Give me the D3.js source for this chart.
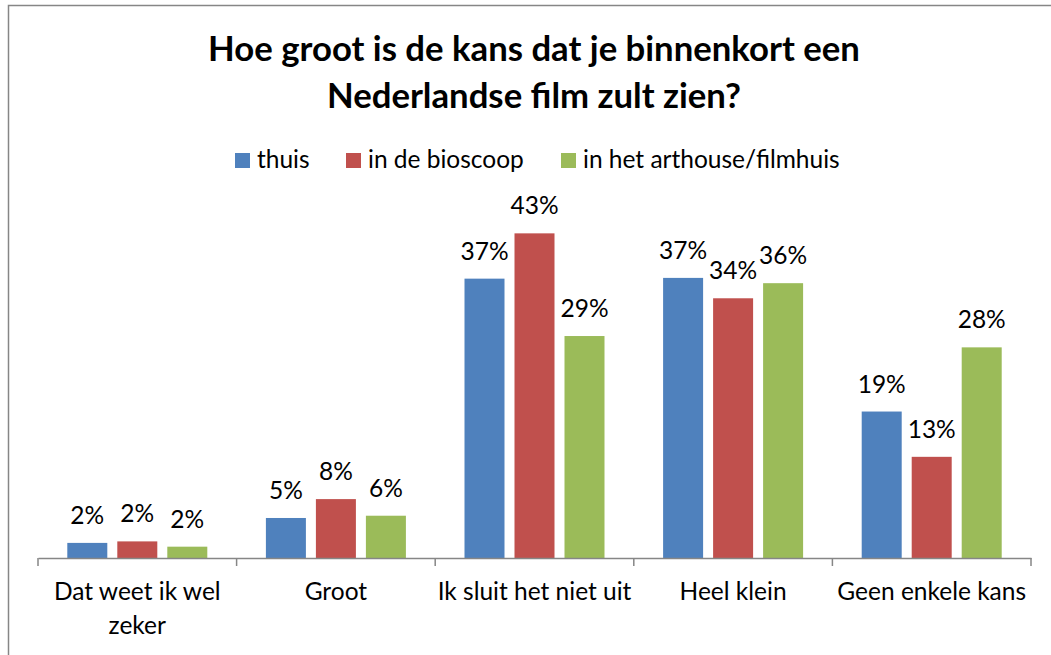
<!DOCTYPE html>
<html>
<head>
<meta charset="utf-8">
<script src="https://cdn.jsdelivr.net/npm/d3@7"></script>
<style>
  body { margin: 0; background: #fff; }
  svg text { font-family: Lato, "Open Sans", sans-serif; fill: #000; }
</style>
</head>
<body>
<svg id="chart" width="1051" height="655"></svg>
<script>
// Chart data
const categories = ["Dat weet ik wel zeker", "Groot", "Ik sluit het niet uit", "Heel klein", "Geen enkele kans"];
const series = ["thuis", "in de bioscoop", "in het arthouse/filmhuis"];
const thuis = [2.0, 5.3, 37.0, 37.1, 19.4];
const bioscoop = [2.2, 7.8, 43.0, 34.4, 13.4];
const arthouse = [1.5, 5.6, 29.4, 36.4, 27.9];
const colors = ["#4F81BD", "#C0504D", "#9BBB59"];
const titleLines = ["Hoe groot is de kans dat je binnenkort een", "Nederlandse film zult zien?"];

const values = [thuis, bioscoop, arthouse];
const textSize = 24.5;
const svg = d3.select("#chart");

// outer frame
svg.append("rect")
  .attr("x", 8.5).attr("y", 5.5)
  .attr("width", 1100).attr("height", 700)
  .attr("fill", "none")
  .attr("stroke", "#868686")
  .attr("stroke-width", 1.5);

/* Title, fitted to the width of the original */
const title = svg.append("g").attr("class", "title");
title.selectAll("text")
  .data(titleLines)
  .join("text")
  .attr("x", 534)
  .attr("y", (d, i) => 61 + i * 47)
  .attr("text-anchor", "middle")
  .attr("font-weight", "bold")
  .attr("font-size", 31)
  .text(d => d);
const firstLine = title.select("text").node();
const fit = 652 / firstLine.getComputedTextLength();
title.selectAll("text").attr("font-size", 31 * fit);

/* Scales */
const axisY = 558;
const x0 = d3.scaleBand().domain(categories).range([38, 1031]);
const x1 = d3.scaleBand().domain(series).range([29.3, 169.3]).paddingInner(0.2);
const y = d3.scaleLinear().domain([0, 45]).range([axisY, axisY - 339.75]);

/* Bars */
const groups = svg.append("g").attr("class", "bars")
  .selectAll("g")
  .data(categories)
  .join("g")
  .attr("transform", d => `translate(${x0(d)},0)`);

groups.selectAll("rect")
  .data((d, ci) => series.map((s, si) => ({ s, si, v: values[si][ci] })))
  .join("rect")
  .attr("x", d => x1(d.s))
  .attr("y", d => y(d.v))
  .attr("width", x1.bandwidth())
  .attr("height", d => axisY - y(d.v))
  .attr("fill", d => colors[d.si]);

groups.selectAll("text")
  .data((d, ci) => series.map((s, si) => ({ s, si, v: values[si][ci] })))
  .join("text")
  .attr("x", d => x1(d.s) + x1.bandwidth() / 2)
  .attr("y", d => y(d.v) - 19)
  .attr("text-anchor", "middle")
  .attr("font-size", textSize)
  .text(d => d3.format(".0f")(d.v) + "%");

/* Category axis */
const xAxis = d3.axisBottom(x0).tickSize(0).tickPadding(0);
const gx = svg.append("g")
  .attr("class", "axis")
  .attr("transform", `translate(0,${axisY})`)
  .call(xAxis);
gx.select(".domain").attr("stroke", "#868686").attr("stroke-width", 1.5);
gx.selectAll(".tick text").remove();

// tick marks on the category boundaries
const bounds = categories.map(c => x0(c)).concat([x0.range()[1]]);
gx.selectAll("line.bound")
  .data(bounds)
  .join("line")
  .attr("class", "bound")
  .attr("x1", d => d).attr("x2", d => d)
  .attr("y1", 0).attr("y2", 8)
  .attr("stroke", "#868686")
  .attr("stroke-width", 1.5);

// wrapped category labels
const catLines = { "Dat weet ik wel zeker": ["Dat weet ik wel", "zeker"] };
gx.selectAll("text.cat")
  .data(categories)
  .join("text")
  .attr("class", "cat")
  .attr("x", d => x0(d) + x0.bandwidth() / 2)
  .attr("y", 42)
  .attr("text-anchor", "middle")
  .attr("font-size", textSize)
  .each(function(d) {
    const lines = catLines[d] || [d];
    d3.select(this).selectAll("tspan")
      .data(lines)
      .join("tspan")
      .attr("x", x0(d) + x0.bandwidth() / 2)
      .attr("dy", (l, i) => (i === 0 ? 0 : 34))
      .text(l => l);
  });

/* Legend */
const legendX = [235, 346, 561];
const legend = svg.append("g").attr("class", "legend");
const items = legend.selectAll("g")
  .data(series)
  .join("g")
  .attr("transform", (d, i) => `translate(${legendX[i]},153)`);
items.append("rect")
  .attr("width", 15).attr("height", 15)
  .attr("fill", (d, i) => colors[i]);
items.append("text")
  .attr("x", 22).attr("y", 15)
  .attr("font-size", textSize)
  .text(d => d);
</script>
</body>
</html>
